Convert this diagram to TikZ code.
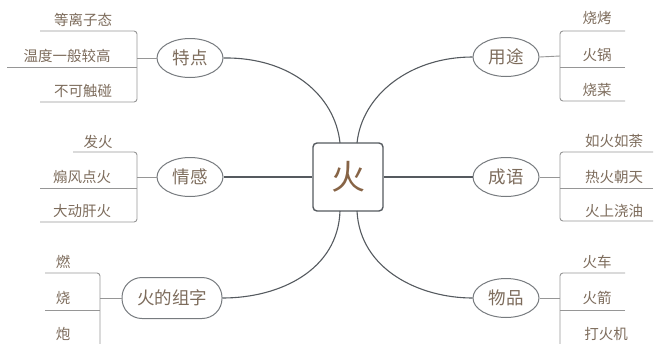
\documentclass[tikz,border=0pt]{standalone}
\usepackage{fontspec}
\setmainfont{Noto Sans CJK SC}
\usetikzlibrary{shapes.geometric}
\definecolor{txt}{RGB}{125,108,92}
\definecolor{ctxt}{RGB}{135,100,70}
\definecolor{mainln}{RGB}{85,90,95}
\definecolor{leafln}{RGB}{150,150,150}
\begin{document}
\begin{tikzpicture}[x=1pt,y=-1pt,
  centerbox/.style={draw=mainln,line width=1.4pt,rounded corners=4pt,fill=white,
    minimum width=70pt,minimum height=68pt,inner sep=0pt,text=ctxt,
    font=\fontsize{34}{34}\selectfont},
  topic/.style={ellipse,draw=mainln!80,line width=1pt,fill=white,
    minimum width=66pt,minimum height=39pt,inner sep=0pt,text=txt,
    font=\fontsize{17.5}{18}\selectfont},
  stadium/.style={rectangle,rounded corners=20pt,draw=mainln!80,line width=1pt,fill=white,
    minimum width=100pt,minimum height=41pt,inner sep=0pt,text=txt,
    font=\fontsize{17.5}{18}\selectfont},
  leaf/.style={text=txt,inner sep=0pt,font=\fontsize{14.5}{15}\selectfont},
  mainconn/.style={draw=mainln,line width=1.1pt},
  leafconn/.style={draw=leafln,line width=0.9pt},
  bracket/.style={draw=leafln,line width=0.9pt,rounded corners=3pt}
]
\useasboundingbox (0,0) rectangle (655,343);

% centre
\node[centerbox] (c) at (348,177) {火};
\coordinate (ctl) at (340,143);
\coordinate (ctr) at (357,143);
\coordinate (cbl) at (340,211);
\coordinate (cbr) at (357,211);

% topics
\node[topic] (td) at (190,58) {特点};
\node[topic] (qg) at (190,177) {情感};
\node[stadium] (zz) at (172,298) {火的组字};
\node[topic] (yt) at (506,57) {用途};
\node[topic] (cy) at (506,177) {成语};
\node[topic] (wp) at (506,298) {物品};

% main connectors
\draw[mainconn] (ctl) .. controls (335,95) and (290,57) .. (td.east);
\draw[mainconn] (ctr) .. controls (362,95) and (410,57) .. (yt.west);
\draw[mainconn] (cbl) .. controls (338,270) and (280,298) .. (zz.east);
\draw[mainconn] (cbr) .. controls (360,270) and (420,298) .. (wp.west);
\draw[mainconn] (c.west) -- (qg.east);
\draw[mainconn] (c.east) -- (cy.west);

% ---- 特点 leaves
\coordinate (tdj) at (137,58);
\coordinate (tda) at (40,31);
\coordinate (tdb) at (7,67);
\coordinate (tdc) at (40,102);
\draw[leafconn] (td.west) -- (tdj);
\draw[bracket] (tda) -- (137,31) -- (137,102) -- (tdc);
\draw[leafconn] (tdb) -- (137,67);
\node[leaf] (td1) at (83,20) {等离子态};
\node[leaf] (td2) at (67,56) {温度一般较高};
\node[leaf] (td3) at (83,91) {不可触碰};

% ---- 情感 leaves
\coordinate (qgj) at (137,177);
\coordinate (qga) at (73,152);
\coordinate (qgb) at (40,188);
\coordinate (qgc) at (40,222);
\draw[leafconn] (qg.west) -- (qgj);
\draw[bracket] (qga) -- (137,152) -- (137,222) -- (qgc);
\draw[leafconn] (qgb) -- (137,188);
\node[leaf] (qg1) at (98,142) {发火};
\node[leaf] (qg2) at (82,177) {煽风点火};
\node[leaf] (qg3) at (82,211) {大动肝火};

% ---- 火的组字 leaves
\coordinate (zzj) at (100,298);
\coordinate (zza) at (45,273);
\coordinate (zzb) at (45,310);
\coordinate (zzc) at (100,345);
\draw[leafconn] (zz.west) -- (zzj);
\draw[bracket] (zza) -- (100,273) -- (zzc);
\draw[leafconn] (zzb) -- (100,310);
\node[leaf] (zz1) at (63,262) {燃};
\node[leaf] (zz2) at (63,298) {烧};
\node[leaf] (zz3) at (63,334) {炮};

% ---- 用途 leaves
\coordinate (ytj) at (560,56);
\coordinate (yta) at (625,31);
\coordinate (ytb) at (625,67);
\coordinate (ytc) at (625,101);
\draw[leafconn] (yt.east) -- (ytj);
\draw[bracket] (yta) -- (560,31) -- (560,101) -- (ytc);
\draw[leafconn] (ytb) -- (560,67);
\node[leaf] (yt1) at (597,18) {烧烤};
\node[leaf] (yt2) at (597,55) {火锅};
\node[leaf] (yt3) at (597,90) {烧菜};

% ---- 成语 leaves
\coordinate (cyj) at (560,177);
\coordinate (cya) at (653,152);
\coordinate (cyb) at (653,188);
\coordinate (cyc) at (653,221);
\draw[leafconn] (cy.east) -- (cyj);
\draw[bracket] (cya) -- (560,152) -- (560,221) -- (cyc);
\draw[leafconn] (cyb) -- (560,188);
\node[leaf] (cy1) at (614,141) {如火如荼};
\node[leaf] (cy2) at (614,177) {热火朝天};
\node[leaf] (cy3) at (614,211) {火上浇油};

% ---- 物品 leaves
\coordinate (wpj) at (560,298);
\coordinate (wpa) at (625,273);
\coordinate (wpb) at (625,310);
\coordinate (wpc) at (560,345);
\draw[leafconn] (wp.east) -- (wpj);
\draw[bracket] (wpa) -- (560,273) -- (wpc);
\draw[leafconn] (wpb) -- (560,310);
\node[leaf] (wp1) at (597,262) {火车};
\node[leaf] (wp2) at (597,298) {火箭};
\node[leaf] (wp3) at (606,334) {打火机};
\end{tikzpicture}
\end{document}
